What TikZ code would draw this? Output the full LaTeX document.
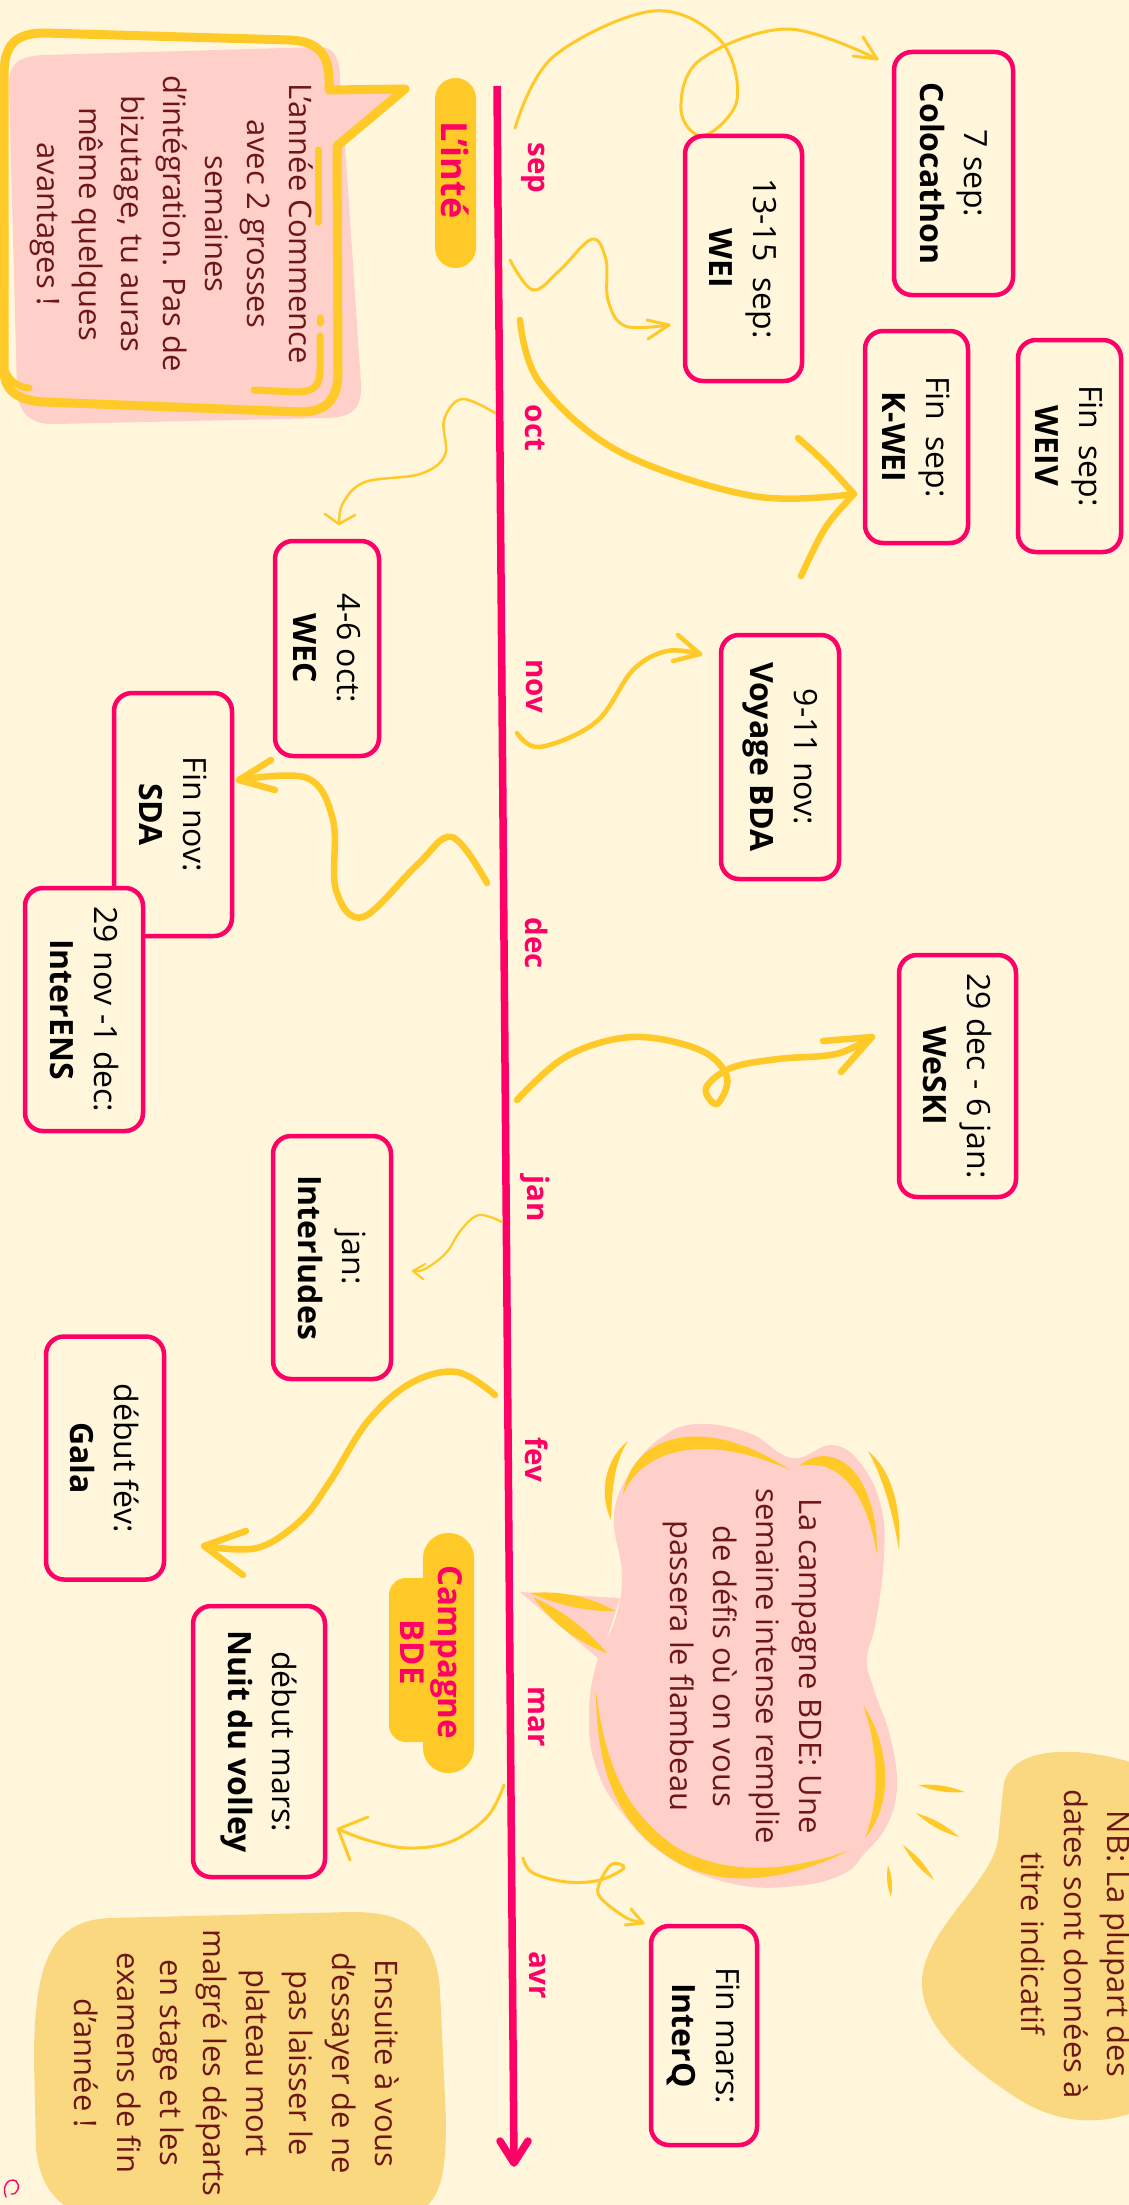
\documentclass[tikz,border=0pt]{standalone}
\usepackage{fontspec}
\setmainfont{Open Sans}
\usetikzlibrary{calc}
\definecolor{bg}{RGB}{255,246,220}
\definecolor{mag}{RGB}{255,0,102}
\definecolor{yel}{RGB}{255,202,40}
\definecolor{pinkb}{RGB}{255,207,201}
\definecolor{blobc}{RGB}{249,216,128}
\definecolor{txt}{RGB}{110,22,22}
\begin{document}
\begin{tikzpicture}[x=1pt,y=-1pt,
  evt/.style={draw=mag, line width=4.5pt, fill=bg, rounded corners=18pt, rotate=-90, align=center, inner sep=0pt, font=\fontsize{32}{44}\selectfont, text=black},
  month/.style={rotate=-90, text=mag, font=\fontsize{29.5}{35}\selectfont\bfseries, inner sep=0pt},
  para/.style={rotate=-90, text=txt, align=center, font=\fontsize{31}{43}\selectfont, inner sep=0pt},
  conn/.style={draw=yel, line cap=round, line join=round},
  cthin/.style={conn, line width=3pt},
  cmid/.style={conn, line width=4.5pt},
  cthick/.style={conn, line width=6.5pt},
  deco/.style={draw=yel, line width=7pt, line cap=round, line join=round},
]
\fill[bg] (0,0) rectangle (1129,2205);
\useasboundingbox (0,0) rectangle (1129,2205);

% ---------- NB blob ----------
\fill[blobc] (1003,1790) .. controls (1005,1748) and (1070,1742) .. (1140,1765) -- (1140,2110)
  .. controls (1100,2126) and (1060,2124) .. (1020,2100)
  .. controls (960,2062) and (920,2022) .. (922,1980)
  .. controls (924,1930) and (992,1882) .. (998,1840) -- cycle;
% ---------- Ensuite blob ----------
\fill[blobc] (34,2060) .. controls (34,1965) and (50,1920) .. (110,1918) -- (350,1912)
  .. controls (410,1911) and (436,1935) .. (440,1990) -- (446,2120)
  .. controls (446,2180) and (440,2200) .. (415,2215) -- (80,2215)
  .. controls (50,2200) and (40,2180) .. (36,2150) -- cycle;

% ---------- bubble 1 ----------
\fill[pinkb] (9,85) .. controls (9,62) and (20,56) .. (45,55) -- (320,47)
  .. controls (335,47) and (340,60) .. (340,80) -- (340,88) -- (404,88) -- (345,145)
  -- (361,385) .. controls (362,410) and (350,418) .. (325,418) -- (55,424)
  .. controls (30,425) and (18,412) .. (17,390) -- cycle;
\draw[yel, line width=9pt, line join=round] (4,370) -- (4,75) .. controls (4,45) and (15,33) .. (45,33)
  -- (290,40) .. controls (318,41) and (329,55) .. (329,80) -- (329,90) -- (405,89) -- (337,146)
  -- (338,372) .. controls (338,400) and (326,412) .. (300,412) -- (45,402)
  .. controls (20,401) and (4,392) .. cycle;
\draw[deco] (318,150) -- (318,222);
\draw[deco] (320,318) -- (320,323);
\draw[deco] (320,336) -- (320,370) .. controls (320,388) and (312,392) .. (295,392) -- (254,390);
\draw[deco] (5,370) .. controls (10,382) and (18,387) .. (29,388);
\node[para, font=\fontsize{31}{42}\selectfont] (b1txt) at (172,224) {L’année Commence\\avec 2 grosses\\semaines\\d’intégration. Pas de\\bizutage, tu auras\\même quelques\\avantages !};

% ---------- bubble 2 (cloud) ----------
\fill[pinkb] plot[smooth cycle, tension=0.7] coordinates {(614,1514) (633,1468) (662,1437) (698,1424) (749,1433) (792,1458) (832,1445) (861,1464) (881,1506) (884,1556) (876,1621) (867,1659) (874,1690) (890,1736) (897,1786) (887,1825) (865,1853) (843,1874) (796,1886) (734,1884) (669,1858) (622,1813) (596,1767) (589,1717) (596,1665) (615,1620) (622,1575)};
\fill[pinkb] (600,1660) -- (520,1592) -- (620,1598) -- cycle;
\fill[yel] (611,1520) .. controls (598,1492) and (606,1458) .. (628,1441) .. controls (614,1462) and (612,1490) .. cycle;
\fill[yel] (623,1495) .. controls (630,1438) and (700,1410) .. (790,1470) .. controls (700,1430) and (640,1452) .. cycle;
\fill[yel] (799,1466) .. controls (832,1438) and (878,1470) .. (877,1555) .. controls (866,1487) and (836,1458) .. cycle;
\fill[yel] (868,1451) .. controls (892,1470) and (902,1510) .. (899,1550) .. controls (893,1515) and (884,1480) .. cycle;
\fill[yel] (863,1705) .. controls (887,1740) and (897,1800) .. (865,1838) .. controls (882,1795) and (877,1745) .. cycle;
\fill[yel] (850,1850) .. controls (790,1880) and (720,1892) .. (669,1857) .. controls (623,1827) and (596,1780) .. (596,1690)
  .. controls (606,1776) and (632,1815) .. (673,1845) .. controls (722,1877) and (790,1872) .. cycle;
\fill[yel] (530,1593) .. controls (565,1590) and (595,1599) .. (615,1611) .. controls (592,1612) and (560,1606) .. cycle;
\fill[yel] (533,1597) .. controls (562,1610) and (588,1630) .. (607,1653) .. controls (580,1644) and (553,1624) .. cycle;
\node[para] (b2txt) at (742,1666) {La campagne BDE: Une\\semaine intense remplie\\de défis où on vous\\passera le flambeau};
% rays
\fill[yel] (918,1785) to[bend left=12] (965,1792) to[bend left=12] (918,1785);
\fill[yel] (916,1813) to[bend left=12] (959,1837) to[bend left=12] (916,1813);
\fill[yel] (903,1845) to[bend left=12] (934,1880) to[bend left=12] (903,1845);
\fill[yel] (888,1865) to[bend left=14] (891,1897) to[bend left=14] (888,1865);

\node[para] (nbtxt) at (1076,1944) {NB: La plupart des\\dates sont données à\\titre indicatif};
\node[para] (enstxt) at (237,2063) {Ensuite à vous\\d’essayer de ne\\pas laisser le\\plateau mort\\malgré les départs\\en stage et les\\examens de fin\\d’année !};

% ---------- pills ----------
\fill[yel, rounded corners=20.5pt] (435,78) rectangle (476,268);
\node[rotate=-90, text=mag, font=\fontsize{36}{40}\selectfont\bfseries, inner sep=0pt] (inte) at (455,170) {L’inté};
\fill[yel, rounded corners=25pt] (423,1533) rectangle (474,1773);
\fill[yel, rounded corners=17pt] (389,1578) rectangle (440,1742);
\node[rotate=-90, text=mag, align=center, font=\fontsize{33}{38}\selectfont\bfseries, inner sep=0pt] (camp) at (431,1652) {Campagne\\BDE};

% ---------- timeline ----------
\coordinate (tl0) at (497,86);
\coordinate (tl1) at (514,2163);
\draw[mag, line width=7.5pt] (tl0) -- (tl1);
\draw[mag, line width=7.5pt, line cap=round, line join=round] (500,2141) -- (tl1) -- (528,2141);
\node[month] (msep) at (533,168) {sep};
\node[month] (moct) at (535,428) {oct};
\node[month] (mnov) at (535,686) {nov};
\node[month] (mdec) at (537,943) {dec};
\node[month] (mjan) at (535,1199) {jan};
\node[month] (mfev) at (537,1460) {fev};
\node[month] (mmar) at (537,1717) {mar};
\node[month] (mavr) at (538,1975) {avr};

% ---------- connectors ----------
\coordinate (sA) at (515,128); \coordinate (tA) at (877,59);
\draw[cthin] plot[smooth, tension=0.6] coordinates {(sA) (553,57) (653,11) (720,40) (737,100) (703,136) (681,110) (700,60) (787,29) (tA)};
\draw[cthin] (863,37) -- (tA) -- (853,56);

\coordinate (sB) at (510,260); \coordinate (tB) at (669,325);
\draw[cthin] plot[smooth, tension=0.6] coordinates {(sB) (533,290) (560,270) (592,239) (606,260) (608,300) (625,326) (tB)};
\draw[cthin] (647,320) -- (tB) -- (648,339);

\coordinate (sC) at (520,320); \coordinate (tC) at (854,494);
\draw[cthick] plot[smooth, tension=0.6] coordinates {(sC) (540,383) (620,452) (753,496) (tC)};
\draw[cthick] (798,438) .. controls (825,462) .. (tC) .. controls (825,525) .. (801,576);

\coordinate (sD) at (495,413); \coordinate (tD) at (339,524);
\draw[cthin, line width=2.5pt] plot[smooth, tension=0.6] coordinates {(sD) (462,399) (444,420) (445,455) (420,474) (365,482) (343,503) (tD)};
\draw[cthin, line width=2.5pt] (325,514) -- (tD) -- (355,515);

\coordinate (sE) at (517,733); \coordinate (tE) at (700,654);
\draw[cmid] plot[smooth, tension=0.6] coordinates {(sE) (540,747) (596,722) (633,670) (667,651) (tE)};
\draw[cmid] (678,635) -- (tE) -- (673,661);

\coordinate (sF) at (487,883); \coordinate (tF) at (239,780);
\draw[cthick] plot[smooth, tension=0.6] coordinates {(sF) (452,837) (417,865) (363,917) (336,890) (333,820) (307,778) (tF)};
\draw[cthick] (271,760) -- (tF) -- (275,790);

\coordinate (sG) at (517,1100); \coordinate (tG) at (872,1037);
\draw[cthick] plot[smooth, tension=0.6] coordinates {(sG) (567,1056) (633,1037) (700,1050) (727,1077) (717,1104) (706,1088) (731,1068) (778,1059) (836,1054) (tG)};
\draw[cthick] (823,1041) -- (tG) -- (841,1072);

\coordinate (sH) at (502,1222); \coordinate (tH) at (413,1271);
\draw[cthin, line width=2.2pt] plot[smooth, tension=0.6] coordinates {(sH) (479,1215) (461,1230) (446,1253) (425,1269) (tH)};
\draw[cthin, line width=2.2pt] (425,1264) -- (tH) -- (423,1279);

\coordinate (sI) at (495,1395); \coordinate (tI) at (204,1546);
\draw[cthick] plot[smooth, tension=0.6] coordinates {(sI) (457,1372) (411,1383) (368,1421) (329,1483) (300,1521) (257,1548) (tI)};
\draw[cthick] (246,1531) -- (tI) -- (243,1575);

\coordinate (sJ) at (504,1785); \coordinate (tJ) at (338,1829);
\draw[cthin] plot[smooth, tension=0.6] coordinates {(sJ) (487,1817) (450,1842) (407,1848) (367,1840) (tJ)};
\draw[cthin] (368,1817) -- (tJ) -- (350,1860);

\coordinate (sK) at (523,1858); \coordinate (tK) at (643,1923);
\draw[cthin] plot[smooth, tension=0.6] coordinates {(sK) (533,1873) (567,1882) (600,1880) (624,1868) (612,1864) (600,1882) (600,1897) (625,1917) (tK)};
\draw[cthin] (631,1909) -- (tK) -- (625,1925);

% ---------- event boxes ----------
\node[evt, minimum width=243pt, minimum height=119pt] (colo) at (953.5,173.5) {7 sep:\\\textbf{Colocathon}};
\node[evt, minimum width=245pt, minimum height=117pt] (wei) at (743.5,258.5) {13-15\enspace sep:\\\textbf{WEI}};
\node[evt, minimum width=212pt, minimum height=103pt] (kwei) at (916.5,437) {Fin\enspace sep:\\\textbf{K-WEI}};
\node[evt, minimum width=212pt, minimum height=103pt] (weiv) at (1069.5,446) {Fin\enspace sep:\\\textbf{WEIV}};
\node[evt, minimum width=215pt, minimum height=104pt] (wec) at (327,648.5) {4-6 oct:\\\textbf{WEC}};
\node[evt, minimum width=243pt, minimum height=118pt] (sda) at (173,814.5) {Fin nov:\\\textbf{SDA}};
\node[evt, minimum width=243pt, minimum height=118pt] (interens) at (84,1009.5) {29 nov -1 dec:\\\textbf{InterENS}};
\node[evt, minimum width=244pt, minimum height=118pt] (bda) at (780,757) {9-11 nov:\\\textbf{Voyage BDA}};
\node[evt, minimum width=242pt, minimum height=117pt] (weski) at (957.5,1076) {29 dec - 6 jan:\\\textbf{WeSKI}};
\node[evt, minimum width=243pt, minimum height=118pt] (interl) at (332,1257.5) {jan:\\\textbf{Interludes}};
\node[evt, minimum width=243pt, minimum height=118pt] (gala) at (105,1458) {début fév:\\\textbf{Gala}};
\node[evt, minimum width=271pt, minimum height=132pt] (nuit) at (259,1741.5) {début mars:\\\textbf{Nuit du volley}};
\node[evt, minimum width=219pt, minimum height=106pt] (interq) at (704,2035.5) {Fin mars:\\\textbf{InterQ}};

% small swirl
\draw[mag, line width=1.4pt, line cap=round] (6,2197) .. controls (1,2186) and (9,2177) .. (16,2181) .. controls (21,2185) and (18,2195) .. (11,2194);
\end{tikzpicture}
\end{document}
